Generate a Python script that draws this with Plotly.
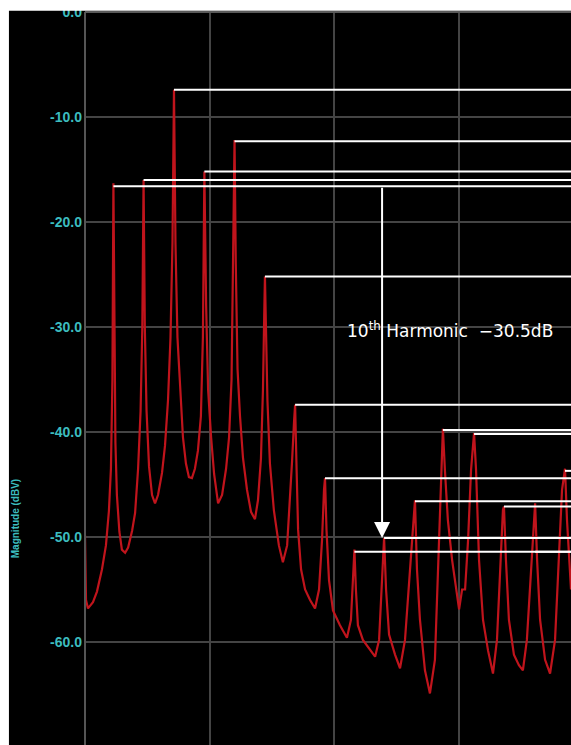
import plotly.graph_objects as go

# ---- data ----
freq_hz = [0, 4, 12, 32, 48, 68, 84, 96, 104, 110, 114, 118, 122, 128, 138, 148, 161, 173, 189, 201,
           213, 223, 230, 235, 240, 247, 257, 269, 281, 293, 309, 321, 333, 343, 351, 357, 363, 371,
           381, 393, 405, 417, 429, 441, 453, 465, 473, 479, 486, 494, 506, 518, 534, 550, 566, 578,
           588, 595, 600, 605, 612, 622, 634, 650, 666, 682, 694, 706, 714, 719, 722, 726, 732, 742,
           758, 778, 794,
           811, 823, 831, 839, 843, 849,
           855, 867, 883, 903, 923, 939, 951, 959, 963, 969, 979, 995, 1023, 1051, 1067, 1075, 1081,
           1087, 1095, 1115, 1144, 1164, 1180, 1192, 1200, 1208, 1220, 1244, 1264, 1284, 1304, 1316,
           1324, 1332, 1344, 1364, 1384, 1404, 1416, 1428, 1436, 1444, 1456, 1473, 1489, 1501, 1513,
           1525, 1537, 1549, 1561, 1569, 1581, 1597, 1617, 1637, 1653, 1665, 1677, 1681, 1689, 1701,
           1721, 1741, 1757, 1773, 1790, 1802, 1806, 1814, 1826, 1846, 1866, 1886, 1902, 1914, 1926,
           1934, 1950]
mag_db = [-49.8, -56.0, -56.8, -56.2, -55.2, -53.1, -50.8, -47.5, -43.5, -35.0, -16.3, -33.0, -41.0,
          -46.0, -49.5, -51.2, -51.5, -51.0, -49.4, -47.7, -43.5, -38.0, -30.0, -16.0, -30.0, -38.0,
          -43.3, -46.0, -46.8, -46.0, -43.9, -41.3, -37.0, -31.0, -22.0, -7.4, -22.0, -31.0, -36.0,
          -40.5, -43.0, -44.3, -44.4, -43.5, -41.8, -38.5, -31.0, -15.2, -28.0, -36.0, -40.5, -44.0,
          -46.8, -46.0, -43.5, -40.5, -35.0, -24.0, -12.2, -24.0, -34.0, -38.5, -42.5, -45.5, -47.6,
          -48.3, -46.5, -42.5, -36.0, -29.0, -25.2, -30.0, -37.0, -43.0, -47.5, -50.8, -52.4,
          -50.8, -46.5, -42.7, -38.9, -37.4, -43.6,
          -49.3, -53.1, -55.0, -56.0, -56.8, -55.0, -50.3, -45.5, -44.4, -49.3, -54.1, -57.0, -58.4,
          -59.6, -57.9, -54.1, -51.2, -55.0, -58.4, -59.8, -60.8, -61.4, -59.8, -54.1, -50.1, -55.0,
          -59.3, -61.2, -62.5, -59.8, -53.1, -48.4, -46.5, -53.1, -57.9, -62.7, -64.9, -61.7, -54.1,
          -44.6, -39.7, -43.6, -48.4, -52.2, -55.0, -56.9, -55.0, -55.0, -50.3, -43.6, -40.1, -43.6,
          -52.2, -57.9, -60.8, -63.0, -59.8, -53.1, -47.4, -47.1, -52.2, -57.9, -61.2, -62.2, -62.7,
          -59.8, -53.1, -47.4, -46.8, -52.2, -57.9, -61.7, -63.0, -59.8, -52.2, -45.5, -43.5, -48.4,
          -55.0]

# harmonic marker lines (start frequency, level)
harmonic_hz = [114, 235, 357, 479, 600, 722, 843, 963, 1081, 1200, 1324, 1436, 1561, 1681, 1806, 1926]
line_level_db = [-16.6, -16.0, -7.4, -15.2, -12.3, -25.2, -37.4, -44.4, -51.4, -50.1, -46.6, -39.8,
                 -40.2, -47.1, -51.4, -43.7]

arrow_hz = 1192
label_text = "10<sup>th</sup> Harmonic  \u221230.5dB"
label_hz = 1043
label_db = -30.3

y_tick_vals = [0, -10, -20, -30, -40, -50, -60]
y_tick_text = ["0.0", "-10.0", "-20.0", "-30.0", "-40.0", "-50.0", "-60.0"]
y_title = "Magnitude (dBV)"

X_MAX = 1950

fig = go.Figure()
fig.add_trace(go.Scatter(x=freq_hz, y=mag_db, mode="lines",
                         line=dict(color="#c0141c", width=2.2), hoverinfo="skip"))

shapes = []
for f, lv in zip(harmonic_hz, line_level_db):
    shapes.append(dict(type="line", xref="x", yref="y", x0=f, x1=X_MAX + 50, y0=lv, y1=lv,
                       line=dict(color="white", width=2), layer="above"))
# white frame strips (top and left)
shapes.append(dict(type="rect", xref="paper", yref="paper", x0=-0.2, x1=1.01, y0=1.0016, y1=1.02,
                   fillcolor="white", line=dict(width=0), layer="above"))
shapes.append(dict(type="rect", xref="paper", yref="paper", x0=-0.2, x1=-0.1565, y0=-0.01, y1=1.02,
                   fillcolor="white", line=dict(width=0), layer="above"))

annotations = [
    dict(x=arrow_hz, y=line_level_db[9], ax=arrow_hz, ay=line_level_db[0], xref="x", yref="y",
         axref="x", ayref="y", showarrow=True, arrowhead=2, arrowsize=1.6, arrowwidth=2,
         arrowcolor="white", text=""),
    dict(x=label_hz, y=label_db, xref="x", yref="y", text=label_text, showarrow=False,
         xanchor="left", yanchor="middle",
         font=dict(family="DejaVu Sans", size=17, color="white")),
    dict(x=-0.144, y=0.308, xref="paper", yref="paper", text=y_title, showarrow=False,
         textangle=-90, xanchor="center", yanchor="middle",
         font=dict(family="Liberation Sans", size=10, color="#3cbcbf", weight="bold")),
]

fig.update_layout(
    width=571, height=745,
    margin=dict(l=85, r=0, t=12, b=0),
    paper_bgcolor="black", plot_bgcolor="black",
    showlegend=False,
    shapes=shapes, annotations=annotations,
    xaxis=dict(range=[0, X_MAX], dtick=500, tick0=0, showticklabels=False, ticks="",
               showgrid=True, gridcolor="#444444", gridwidth=1.6, zeroline=False,
               showline=False),
    yaxis=dict(range=[-69.81, 0], tickvals=y_tick_vals, ticktext=y_tick_text, ticks="",
               showgrid=True, gridcolor="#444444", gridwidth=1.6, zeroline=False,
               showline=False, ticklabelstandoff=2,
               tickfont=dict(family="Liberation Sans", size=14, color="#3cbcbf", weight="bold")),
)
fig.add_shape(type="line", xref="paper", yref="paper", x0=0, x1=0, y0=0, y1=1,
              line=dict(color="#555555", width=2))
fig.add_shape(type="line", xref="paper", yref="paper", x0=0, x1=1, y0=1, y1=1,
              line=dict(color="#5a5a5a", width=2))

fig.write_html("out.html")
